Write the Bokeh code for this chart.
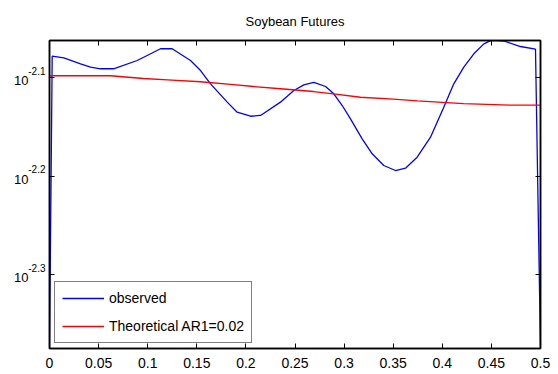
import numpy as np
from bokeh.plotting import figure
from bokeh.models import (Range1d, FixedTicker, LinearAxis, LogAxis, LogScale,
                          Legend, LegendItem)
from bokeh.embed import file_html
from bokeh.resources import INLINE

title_text = "Soybean Futures"

# observed spectrum (frequency, log10 power)
obs_freq = [0.0, 0.00275, 0.0146, 0.0316, 0.0418, 0.0519, 0.0652, 0.0893, 0.0995,
            0.1130, 0.1249, 0.1436, 0.1538, 0.1640, 0.1810, 0.1911, 0.2047, 0.2149,
            0.2352, 0.2488, 0.2590, 0.2692, 0.2811, 0.2895, 0.2981, 0.3065, 0.3184,
            0.3286, 0.3404, 0.3523, 0.3625, 0.3744, 0.3880, 0.4015, 0.4117, 0.4219,
            0.4321, 0.4423, 0.4491, 0.4557, 0.4626, 0.4796, 0.4949, 0.5]
obs_log10 = [-2.3751, -2.0783, -2.0800, -2.0861, -2.0895, -2.0911, -2.0911, -2.0827, -2.0776,
             -2.0708, -2.0708, -2.0827, -2.0929, -2.1064, -2.1250, -2.1352, -2.1393, -2.1385,
             -2.1250, -2.1132, -2.1074, -2.1050, -2.1091, -2.1165, -2.1284, -2.1419, -2.1622,
             -2.1774, -2.1893, -2.1944, -2.1920, -2.1809, -2.1606, -2.1301, -2.1064, -2.0895,
             -2.0759, -2.0658, -2.0626, -2.0624, -2.0629, -2.0685, -2.0712, -2.3751]

# theoretical AR1 spectrum (frequency, log10 power)
theo_freq = [0.0, 0.0621, 0.0957, 0.1202, 0.1538, 0.1874, 0.2077, 0.2352, 0.2688,
             0.2892, 0.3167, 0.3503, 0.3747, 0.4216, 0.4725, 0.5]
theo_log10 = [-2.0982, -2.0982, -2.1010, -2.1023, -2.1043, -2.1071, -2.1091, -2.1114, -2.1142,
              -2.1165, -2.1200, -2.1220, -2.1236, -2.1264, -2.1281, -2.1281]

x_ticks = [0.0, 0.05, 0.1, 0.15, 0.2, 0.25, 0.3, 0.35, 0.4, 0.45, 0.5]
x_tick_labels = ["0", "0.05", "0.1", "0.15", "0.2", "0.25", "0.3", "0.35", "0.4", "0.45", "0.5"]
y_tick_exponents = [-2.3, -2.2, -2.1]
y_tick_base_label = "10"
y_tick_exponent_labels = ["-2.3", "-2.2", "-2.1"]
y_range_exponents = [-2.3751, -2.0624]

series_labels = ["observed", "Theoretical AR1=0.02"]

FONT = "Liberation Sans"
FRAME_H = 308.0  # frame height in px, used to turn a pixel shift into a log shift

p = figure(width=558, height=374, y_axis_type="log", y_axis_location=None,
           x_range=Range1d(0, 0.5),
           y_range=Range1d(10 ** y_range_exponents[0], 10 ** y_range_exponents[1]),
           output_backend="svg", toolbar_location=None,
           min_border_left=49, min_border_right=18, min_border_top=40, min_border_bottom=26,
           title=title_text)

p.title.align = "center"
p.title.vertical_align = "top"
p.title.text_font = FONT
p.title.text_font_size = "13px"
p.title.text_font_style = "normal"
p.title.text_color = "black"
p.title.standoff = 20

p.xgrid.visible = False
p.ygrid.visible = False
p.outline_line_color = "black"
p.outline_line_width = 1.5
p.background_fill_color = "white"
p.border_fill_color = "white"

y_ticks = [10 ** e for e in y_tick_exponents]
span = y_range_exponents[1] - y_range_exponents[0]


def shifted_range(px_up):
    d = px_up / FRAME_H * span
    return Range1d(10 ** (y_range_exponents[0] - d), 10 ** (y_range_exponents[1] - d))


# helper ranges used only to lift / lower the two parts of the "10^e" tick labels
p.extra_y_ranges = {"exp": shifted_range(7.0), "base": shifted_range(-3.0)}
p.extra_y_scales = {"exp": LogScale(), "base": LogScale()}

# bottom axis
xa = p.xaxis[0]
xa.ticker = FixedTicker(ticks=x_ticks)
xa.major_label_overrides = dict(zip(x_ticks, x_tick_labels))
xa.major_label_text_font = FONT
xa.major_label_text_font_size = "14px"
xa.major_label_text_color = "black"
xa.major_label_standoff = 9

top_axis = LinearAxis(ticker=FixedTicker(ticks=x_ticks),
                      major_label_overrides={t: "" for t in x_ticks},
                      major_label_text_font_size="0px",
                      major_label_standoff=0)
left_ticks = LogAxis(ticker=FixedTicker(ticks=y_ticks),
                     major_label_overrides={t: "" for t in y_ticks},
                     major_label_text_font_size="0px",
                     major_label_standoff=0)
right_axis = LogAxis(ticker=FixedTicker(ticks=y_ticks),
                     major_label_overrides={t: "" for t in y_ticks},
                     major_label_text_font_size="0px",
                     major_label_standoff=0)

for ax in [xa, top_axis, left_ticks, right_axis]:
    ax.axis_line_color = "black"
    ax.axis_line_width = 1.5
    ax.major_tick_line_color = "black"
    ax.major_tick_line_width = 1
    ax.major_tick_in = 5
    ax.major_tick_out = 0
    ax.minor_tick_in = 0
    ax.minor_tick_out = 0

exp_axis = LogAxis(y_range_name="exp", ticker=FixedTicker(ticks=y_ticks),
                   major_label_overrides=dict(zip(y_ticks, y_tick_exponent_labels)),
                   major_label_text_font=FONT, major_label_text_font_size="10px",
                   major_label_text_color="black", major_label_standoff=4)
base_axis = LogAxis(y_range_name="base", ticker=FixedTicker(ticks=y_ticks),
                    major_label_overrides={t: y_tick_base_label for t in y_ticks},
                    major_label_text_font=FONT, major_label_text_font_size="13px",
                    major_label_text_color="black", major_label_standoff=-3)
for ax in [exp_axis, base_axis]:
    ax.axis_line_color = None
    ax.major_tick_line_color = None
    ax.minor_tick_line_color = None
    ax.major_tick_in = 0
    ax.major_tick_out = 0
    ax.minor_tick_in = 0
    ax.minor_tick_out = 0

p.add_layout(top_axis, "above")
p.add_layout(right_axis, "right")
p.add_layout(left_ticks, "left")
p.add_layout(exp_axis, "left")
p.add_layout(base_axis, "left")

r_obs = p.line(obs_freq, 10 ** np.array(obs_log10), line_color="#0000FF", line_width=1.3)
r_theo = p.line(theo_freq, 10 ** np.array(theo_log10), line_color="#FF0000", line_width=1.3)

legend = Legend(items=[LegendItem(label=series_labels[0], renderers=[r_obs]),
                       LegendItem(label=series_labels[1], renderers=[r_theo])],
                location=(5, 5), margin=0, padding=7, spacing=10,
                glyph_width=42, glyph_height=18, label_height=18,
                label_standoff=5, label_text_font=FONT, label_text_font_size="14px",
                label_text_color="black",
                border_line_color="black", border_line_width=1.5,
                background_fill_color="white", background_fill_alpha=1.0)
p.add_layout(legend, "center")

open("out.html", "w").write(file_html(p, INLINE))
